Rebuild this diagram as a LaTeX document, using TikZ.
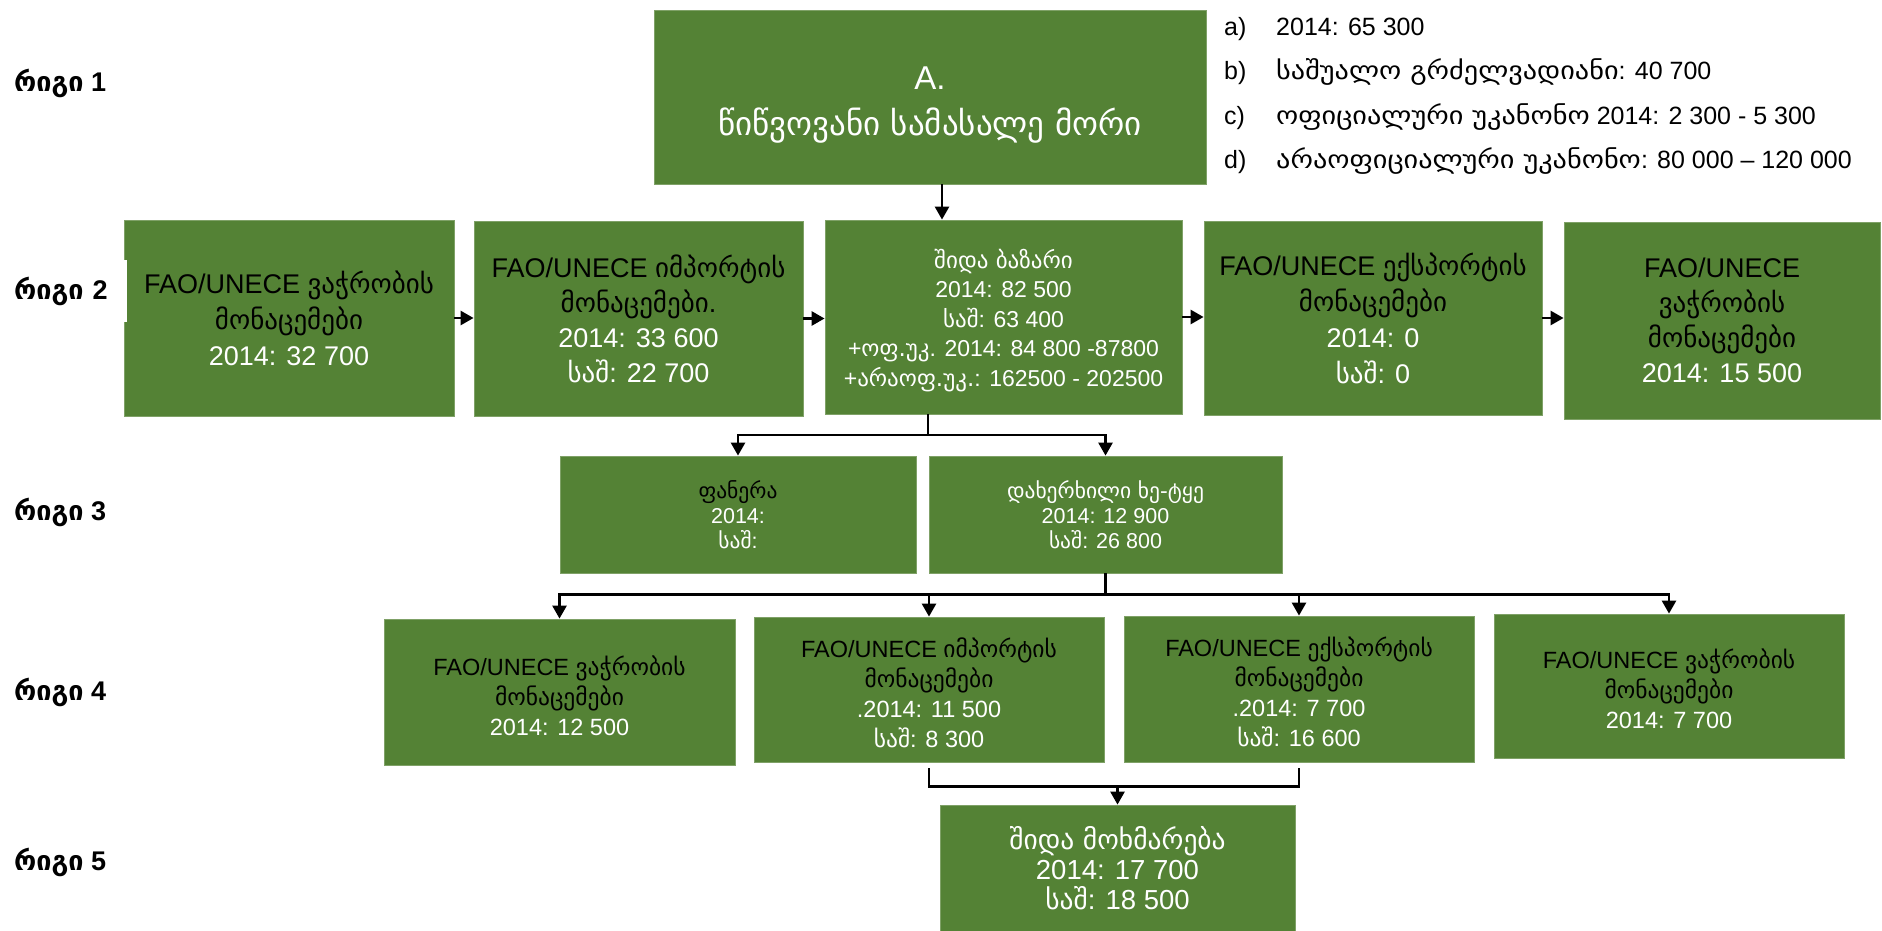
\documentclass[tikz,border=0pt]{standalone}
\usepackage{fontspec}
\setmainfont{Liberation Sans}
\newfontfamily\geo{DejaVu Sans}
\newfontfamily\geow[FakeStretch=1.13]{DejaVu Sans}
\usetikzlibrary{arrows.meta}
\definecolor{boxgreen}{RGB}{84,130,53}
\newcommand\K[1]{{\geo #1}}
\newcommand\KW[1]{{\geow #1}}
\newcommand\bl[1]{\textcolor{black}{#1}}
\newcommand\fs[2]{\fontsize{#1}{#2}\selectfont}
\begin{document}
\begin{tikzpicture}[x=1pt,y=-1pt,
  gbox/.style={fill=boxgreen, draw=boxgreen!75!white, line width=0.8pt, inner sep=0pt, align=center, text=white},
  conn/.style={line width=2.6pt, black},
  arr/.style={conn, -{Triangle[length=13pt,width=14pt]}},
  rowlab/.style={anchor=base west, inner sep=0pt, font=\bfseries\fs{27}{30}},
  leg/.style={anchor=base west, inner sep=0pt, font=\fs{25}{30}},
]
\useasboundingbox (0,0) rectangle (1882,931);

% row 1
\node[gbox, minimum width=552pt, minimum height=174pt, font=\fs{33}{46}] (A) at (930,97) {\rule{0pt}{38pt}A.\\\K{წიწვოვანი სამასალე მორი}};

\node[leg] (la) at (1224,36) {a)};
\node[leg] (lb) at (1224,80) {b)};
\node[leg] (lc) at (1224,125) {c)};
\node[leg] (ld) at (1224,168) {d)};
\node[leg] (ta) at (1276,36) {2014: 65 300};
\node[leg] (tb) at (1276,80) {\KW{საშუალო გრძელვადიანი}: 40 700};
\node[leg] (tc) at (1276,125) {\KW{ოფიციალური უკანონო} 2014: 2 300 - 5 300};
\node[leg] (td) at (1276,168) {\KW{არაოფიციალური უკანონო}: 80 000 – 120 000};

% row 2
\node[gbox, minimum width=330pt, minimum height=196pt, font=\fs{27}{36}] (B1) at (289,318)
  {\bl{FAO/UNECE \K{ვაჭრობის}}\\\bl{\K{მონაცემები}}\\2014: 32 700};
\node[gbox, minimum width=329pt, minimum height=195pt, font=\fs{27}{35}] (B2) at (638.5,318.5)
  {\bl{FAO/UNECE \K{იმპორტის}}\\\bl{\K{მონაცემები}.}\\2014: 33 600\\\K{საშ}: 22 700};
\node[gbox, minimum width=357pt, minimum height=194pt, font=\fs{23}{29.5}] (B3) at (1003.5,317)
  {\rule{0pt}{26pt}\K{შიდა ბაზარი}\\2014: 82 500\\\K{საშ}: 63 400\\+\K{ოფ.უკ}. 2014: 84 800 -87800\\+\K{არაოფ.უკ.}: 162500 - 202500};
\node[gbox, minimum width=338pt, minimum height=194pt, font=\fs{27}{36}] (B4) at (1373,318)
  {\bl{FAO/UNECE \K{ექსპორტის}}\\\bl{\K{მონაცემები}}\\2014: 0\\\K{საშ}: 0};
\node[gbox, minimum width=316pt, minimum height=197pt, font=\fs{27}{35}] (B5) at (1722,320.5)
  {\bl{FAO/UNECE}\\\bl{\K{ვაჭრობის}}\\\bl{\K{მონაცემები}}\\2014: 15 500};

% row 3
\node[gbox, minimum width=356pt, minimum height=117pt, font=\fs{21.5}{25}] (C1) at (738,514.5)
  {\bl{\K{ფანერა}}\\2014:\\\K{საშ}:};
\node[gbox, minimum width=353pt, minimum height=117pt, font=\fs{21.5}{25}] (C2) at (1105.5,514.5)
  {\K{დახერხილი ხე-ტყე}\\2014: 12 900\\\K{საშ}: 26 800};

% row 4
\node[gbox, minimum width=351pt, minimum height=146pt, font=\fs{23.5}{30}] (D1) at (559.5,692)
  {\rule{0pt}{28pt}\bl{FAO/UNECE \K{ვაჭრობის}}\\\bl{\K{მონაცემები}}\\2014: 12 500};
\node[gbox, minimum width=350pt, minimum height=145pt, font=\fs{23.5}{30}] (D2) at (929,689.5)
  {\rule{0pt}{26pt}\bl{FAO/UNECE \K{იმპორტის}}\\\bl{\K{მონაცემები}}\\.2014: 11 500\\\K{საშ}: 8 300};
\node[gbox, minimum width=350pt, minimum height=146pt, font=\fs{23.5}{30}] (D3) at (1299,689)
  {\rule{0pt}{26pt}\bl{FAO/UNECE \K{ექსპორტის}}\\\bl{\K{მონაცემები}}\\.2014: 7 700\\\K{საშ}: 16 600};
\node[gbox, minimum width=350pt, minimum height=144pt, font=\fs{23.5}{30}] (D4) at (1669,686)
  {\rule{0pt}{26pt}\bl{FAO/UNECE \K{ვაჭრობის}}\\\bl{\K{მონაცემები}}\\2014: 7 700};

% row 5
\node[gbox, minimum width=355pt, minimum height=126pt, font=\fs{27.5}{30}] (E) at (1117.5,868)
  {\K{შიდა მოხმარება}\\2014: 17 700\\\K{საშ}: 18 500};

% row labels
\node[rowlab] (r1) at (14,92) {\K{რიგი} 1};
\node[rowlab, anchor=west, fill=white, text width=113pt, align=left, minimum height=62pt] (r2) at (14,291) {\K{რიგი} 2};
\node[rowlab] (r3) at (14,520) {\K{რიგი} 3};
\node[rowlab] (r4) at (14,700) {\K{რიგი} 4};
\node[rowlab] (r5) at (14,870) {\K{რიგი} 5};

% connectors
\coordinate (ja) at (942,0);
\draw[arr] (A.south -| ja) -- (B3.north -| ja);

\draw[arr] (B1.east) -- (B1.east -| B2.west);
\draw[arr] (B2.east) -- (B2.east -| B3.west);
\draw[arr] (B3.east) -- (B3.east -| B4.west);
\draw[arr] (B4.east) -- (B4.east -| B5.west);

\coordinate (j3) at (928,435);
\draw[conn] (B3.south -| j3) -- (j3);
\draw[arr] (j3) -| (C1.north);
\draw[arr] (j3) -| (C2.north);

\path (C2.south) ++(0,21) coordinate (j4);
\draw[conn] (C2.south) -- (j4);
\draw[arr] (j4) -| (D1.north);
\draw[arr] (j4) -| (D2.north);
\draw[arr] (j4) -| (D3.north);
\draw[arr] (j4) -| (D4.north);

\path (E.north) ++(0,-18) coordinate (j5);
\draw[conn] ([yshift=-6pt]D2.south) |- (j5) -| ([yshift=-6pt]D3.south);
\draw[arr] (j5) -- (E.north);
\end{tikzpicture}
\end{document}
